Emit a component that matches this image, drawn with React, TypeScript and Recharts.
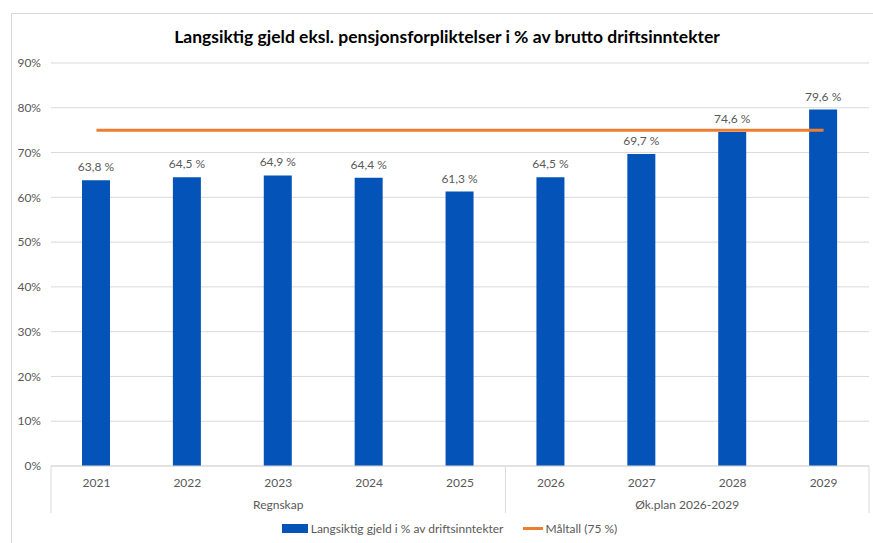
import { Bar, CartesianGrid, ComposedChart, LabelList, Legend, Line, XAxis, YAxis } from "recharts";

const years = ["2021", "2022", "2023", "2024", "2025", "2026", "2027", "2028", "2029"];
const groups = ["Regnskap", "Regnskap", "Regnskap", "Regnskap", "Regnskap", "Øk.plan 2026-2029", "Øk.plan 2026-2029", "Øk.plan 2026-2029", "Øk.plan 2026-2029"];
const debtShare = [63.8, 64.5, 64.9, 64.4, 61.3, 64.5, 69.7, 74.6, 79.6];
const target = [75, 75, 75, 75, 75, 75, 75, 75, 75];
const yTicks = [0, 10, 20, 30, 40, 50, 60, 70, 80, 90];

const data = years.map((year, i) => ({
  year,
  group: groups[i],
  debt: debtShare[i],
  target: target[i],
}));

const FONT = "Lato, 'Open Sans', sans-serif";
const TEXT = "#595959";
const GRID = "#D9D9D9";
const BLUE = "#0453B8";
const ORANGE = "#ED7D31";

function YearTick(props: any) {
  const { x, y, payload, index, width, visibleTicksCount } = props;
  const band = width / visibleTicksCount;
  const left = x - band / 2;
  const bottom = y + 47;
  const first = index === 0 || groups[index - 1] !== groups[index];
  const last = index === visibleTicksCount - 1;
  let count = 0;
  if (first) {
    for (let j = index; j < groups.length && groups[j] === groups[index]; j++) count++;
  }
  return (
    <g>
      <text x={x} y={y + 21} textAnchor="middle" fill={TEXT} fontSize={12} fontFamily={FONT}>
        {payload.value}
      </text>
      {first && <line x1={left} x2={left} y1={y} y2={bottom} stroke={GRID} />}
      {last && <line x1={x + band / 2} x2={x + band / 2} y1={y} y2={bottom} stroke={GRID} />}
      {first && (
        <text x={left + (count * band) / 2} y={y + 43} textAnchor="middle" fill={TEXT} fontSize={12} fontFamily={FONT}>
          {groups[index]}
        </text>
      )}
    </g>
  );
}

// value label above each bar, no wrapping
function BarLabel(props: any) {
  const { x, y, width, value } = props;
  return (
    <text x={x + width / 2} y={y - 9} textAnchor="middle" fill={TEXT} fontSize={12} fontFamily={FONT}>
      {`${String(value).replace(".", ",")} %`}
    </text>
  );
}

function LegendContent() {
  return (
    <div style={{ display: "flex", justifyContent: "center", alignItems: "center", fontFamily: FONT, fontSize: 12, color: TEXT, paddingLeft: 30 }}>
      <span style={{ display: "inline-block", width: 26, height: 9, background: BLUE, marginRight: 3 }} />
      <span>Langsiktig gjeld i % av driftsinntekter</span>
      <span style={{ display: "inline-block", width: 20, height: 3, background: ORANGE, marginLeft: 20, marginRight: 2 }} />
      <span>Måltall (75 %)</span>
    </div>
  );
}

export default function App() {
  return (
    <div style={{ position: "absolute", left: 0, top: 0, width: 873, height: 543, background: "#fff", overflow: "hidden" }}>
      <div style={{ position: "absolute", left: 11, top: 13, width: 900, height: 600, border: `1px solid ${GRID}` }} />
      <div
        style={{
          position: "absolute",
          left: 22,
          width: 850,
          top: 26,
          textAlign: "center",
          fontFamily: FONT,
          fontWeight: 700,
          fontSize: 17.5,
          color: "#000",
        }}
      >
        Langsiktig gjeld eksl. pensjonsforpliktelser i % av brutto driftsinntekter
      </div>
      <ComposedChart width={873} height={543} data={data} margin={{ top: 63, right: 4, bottom: 7, left: 0 }}>
        <CartesianGrid stroke={GRID} vertical={false} />
        <XAxis
          dataKey="year"
          height={50}
          axisLine={{ stroke: GRID }}
          tickLine={false}
          tickSize={0}
          tickMargin={0}
          interval={0}
          tick={<YearTick />}
        />
        <YAxis
          width={51}
          domain={[0, 90]}
          ticks={yTicks}
          tickFormatter={(v) => `${v}%`}
          axisLine={false}
          tickLine={false}
          tickSize={0}
          tickMargin={10}
          tick={{ fill: TEXT, fontSize: 12, fontFamily: FONT }}
        />
        <Legend verticalAlign="bottom" height={20} wrapperStyle={{ bottom: 2 }} content={<LegendContent />} />
        <Bar dataKey="debt" fill={BLUE} barSize={28} isAnimationActive={false}>
          <LabelList dataKey="debt" content={<BarLabel />} />
        </Bar>
        <Line dataKey="target" stroke={ORANGE} strokeWidth={3} dot={false} activeDot={false} isAnimationActive={false} />
      </ComposedChart>
    </div>
  );
}
